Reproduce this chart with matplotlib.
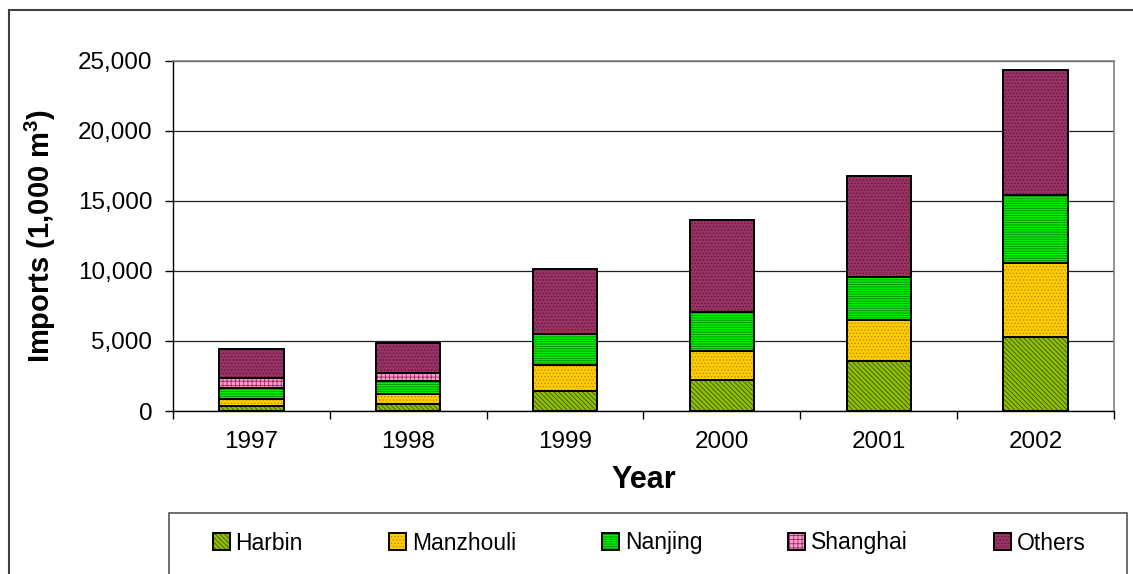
#!/usr/bin/env python3
"""
Stacked bar chart of log imports by port of entry, 1997-2002.
"""

import numpy as np
import matplotlib
matplotlib.use("Agg")
import matplotlib.pyplot as plt
from matplotlib.patches import Rectangle
from matplotlib.ticker import FuncFormatter

# Data (1,000 m3)
years = ['1997', '1998', '1999', '2000', '2001', '2002']
harbin = [360, 500, 1450, 2190, 3600, 5260]
manzhouli = [480, 710, 1860, 2070, 2920, 5290]
nanjing = [790, 950, 2190, 2790, 3030, 4850]
shanghai = [720, 570, 0, 0, 0, 0]
others = [2090, 2100, 4620, 6570, 7260, 8930]

series_names = ['Harbin', 'Manzhouli', 'Nanjing', 'Shanghai', 'Others']
y_ticks = [0, 5000, 10000, 15000, 20000, 25000]

# fill colour, hatch pattern, hatch colour
styles = [
    ('#8FBF00', '\\\\\\\\\\\\\\', '#3F5500'),
    ('#FFCC00', '.....', '#B88C00'),
    ('#00F000', '-------', '#008800'),
    ('#FF99CC', '++++', '#8E2F5E'),
    ('#993366', '.....', '#5E1A3D'),
]

W, H = 1133, 574


def main():
    plt.rcParams['font.family'] = ['Liberation Sans', 'DejaVu Sans']
    plt.rcParams['mathtext.fontset'] = 'custom'
    plt.rcParams['mathtext.rm'] = 'Liberation Sans'
    plt.rcParams['mathtext.bf'] = 'Liberation Sans:bold'
    plt.rcParams['hatch.linewidth'] = 0.6

    fig = plt.figure(figsize=(W / 100, H / 100), dpi=100)
    ax = fig.add_axes([173 / W, 1 - 411 / H, (1114 - 173) / W, 350 / H])

    x = np.arange(len(years))
    width = 0.41
    bottom = np.zeros(len(years))
    handles = []
    for name, vals, (fc, hatch, hc) in zip(series_names,
                                          [harbin, manzhouli, nanjing, shanghai, others],
                                          styles):
        vals = np.array(vals, dtype=float)
        # hatched fill first, black outline on top
        ax.bar(x, vals, width, bottom=bottom, color=fc, hatch=hatch,
               edgecolor=hc, linewidth=0, zorder=2)
        ax.bar(x, vals, width, bottom=bottom, fill=False,
               edgecolor='black', linewidth=1.4, zorder=3)
        handles.append((Rectangle((0, 0), 1, 1, facecolor=fc, hatch=hatch,
                                  edgecolor=hc, linewidth=0),
                        Rectangle((0, 0), 1, 1, fill=False,
                                  edgecolor='black', linewidth=1.4)))
        bottom += vals

    # Axes limits and ticks
    ax.set_xlim(-0.5, len(years) - 0.5)
    ax.set_ylim(0, 25000)
    ax.set_yticks(y_ticks)
    ax.yaxis.set_major_formatter(FuncFormatter(lambda v, p: f"{int(v):,}"))
    ax.tick_params(axis='y', direction='out', length=5.8, width=1,
                   pad=9, labelsize=17.5)
    ax.set_xticks(x)
    ax.set_xticklabels(years)
    ax.set_xticks(np.arange(-0.5, len(years)), minor=True)
    ax.tick_params(axis='x', which='major', length=0, pad=14.5, labelsize=17.5)
    ax.tick_params(axis='x', which='minor', direction='out', length=5.8, width=1)

    # Grid and spines
    ax.yaxis.grid(True, color='#202020', linewidth=0.9)
    ax.set_axisbelow(True)
    for side in ['top', 'right']:
        ax.spines[side].set_color('#808080')
        ax.spines[side].set_linewidth(1.2)
    for side in ['left', 'bottom']:
        ax.spines[side].set_color('black')
        ax.spines[side].set_linewidth(1)

    # Labels
    ax.set_ylabel(r'Imports (1,000 $\mathbf{m^3}$)', fontsize=21,
                  fontweight='bold', va='center')
    ax.yaxis.set_label_coords((40 - 173) / 941, 0.5)
    ax.set_xlabel('Year', fontsize=22, fontweight='bold', va='center')
    ax.xaxis.set_label_coords(0.5, (411 - 480) / 350)

    # Outer chart border and legend box (both run off the image edge)
    fig.add_artist(Rectangle((9 / W, -0.1), 1.2, 1 - 10 / H + 0.1,
                             transform=fig.transFigure, fill=False,
                             edgecolor='#404040', linewidth=1.5))
    fig.add_artist(Rectangle((169 / W, -0.1), (1127 - 169) / W, (H - 513) / H + 0.1,
                             transform=fig.transFigure, fill=False,
                             edgecolor='#555555', linewidth=1.2))

    fig.legend(handles, series_names, loc='center',
               bbox_to_anchor=(649 / W, 1 - 543 / H), ncol=5, frameon=False,
               fontsize=16.5, handlelength=0.75, handleheight=0.75,
               handletextpad=0.25, columnspacing=3.75, borderpad=0)

    fig.savefig('out.png', dpi=100, facecolor='white')
    plt.close(fig)


if __name__ == "__main__":
    main()
